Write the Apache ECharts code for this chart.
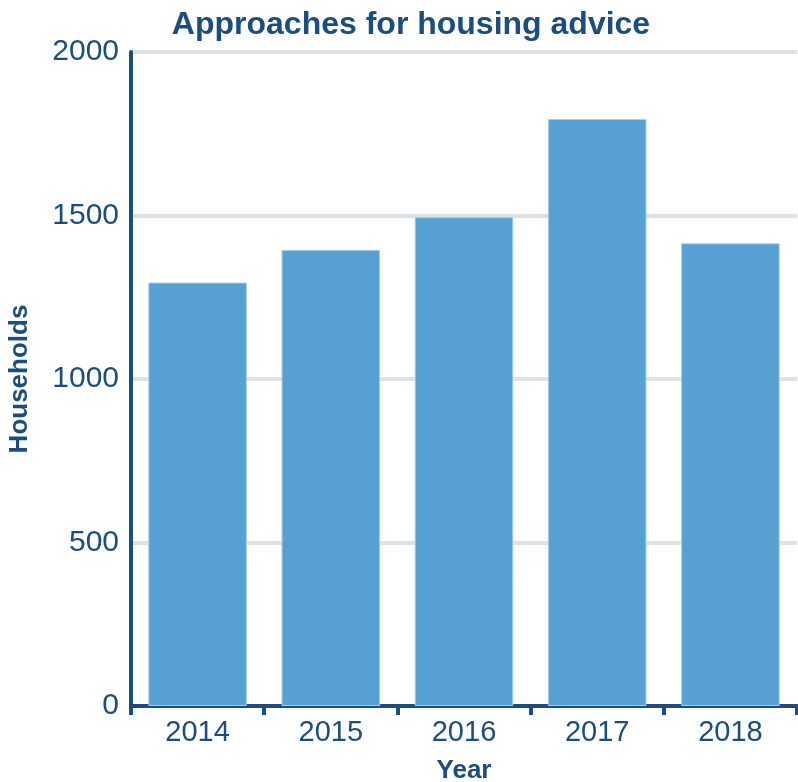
<!DOCTYPE html>
<html>
<head>
<meta charset="utf-8">
<script src="https://cdn.jsdelivr.net/npm/echarts@6/dist/echarts.min.js"></script>
<style>
  html, body { margin: 0; padding: 0; background: #fff; }
  #chart { width: 798px; height: 782px; }
</style>
</head>
<body>
<div id="chart"></div>
<script>
// data
var years = ['2014', '2015', '2016', '2017', '2018'];
var households = [1295, 1395, 1495, 1795, 1415];
var yTicks = [0, 500, 1000, 1500, 2000];

var navy = '#1b4d7e';
var chart = echarts.init(document.getElementById('chart'));
var option = {
    animation: false,
    title: {
        text: 'Approaches for housing advice',
        left: 406,
        top: 4,
        textAlign: 'center',
        textStyle: {
            color: navy,
            fontFamily: 'Liberation Sans',
            fontWeight: 'bold',
            fontSize: 32
        }
    },
    grid: {
        left: 131,
        right: 1,
        top: 52,
        bottom: 76,
        containLabel: false,
        outerBoundsMode: 'none'
    },
    xAxis: {
        type: 'category',
        data: years,
        name: 'Year',
        nameLocation: 'middle',
        nameGap: 52,
        nameTextStyle: {
            color: navy,
            fontFamily: 'Liberation Sans',
            fontWeight: 'bold',
            fontSize: 26
        },
        axisLine: { lineStyle: { color: navy, width: 4 } },
        axisTick: { show: true, length: 9, lineStyle: { color: navy, width: 4 } },
        axisLabel: {
            color: navy,
            fontFamily: 'Liberation Sans',
            fontSize: 29,
            margin: 12
        }
    },
    yAxis: {
        type: 'value',
        min: yTicks[0],
        max: yTicks[yTicks.length - 1],
        interval: 500,
        name: 'Households',
        nameLocation: 'middle',
        nameGap: 98,
        nameTextStyle: {
            color: navy,
            fontFamily: 'Liberation Sans',
            fontWeight: 'bold',
            fontSize: 26
        },
        axisLine: { show: true, lineStyle: { color: navy, width: 4 } },
        axisTick: { show: false },
        axisLabel: {
            color: navy,
            fontFamily: 'Liberation Sans',
            fontSize: 30,
            margin: 12,
            formatter: function (v) { return String(v); }
        },
        splitLine: { lineStyle: { color: '#dbe2ea', width: 4 } }
    },
    series: [
        {
            name: 'Households',
            type: 'bar',
            data: households,
            barCategoryGap: '26%',
            itemStyle: {
                color: '#56a0d4',
                borderColor: '#a9cdea',
                borderWidth: 1
            }
        }
    ]
};
chart.setOption(option);
</script>
</body>
</html>
